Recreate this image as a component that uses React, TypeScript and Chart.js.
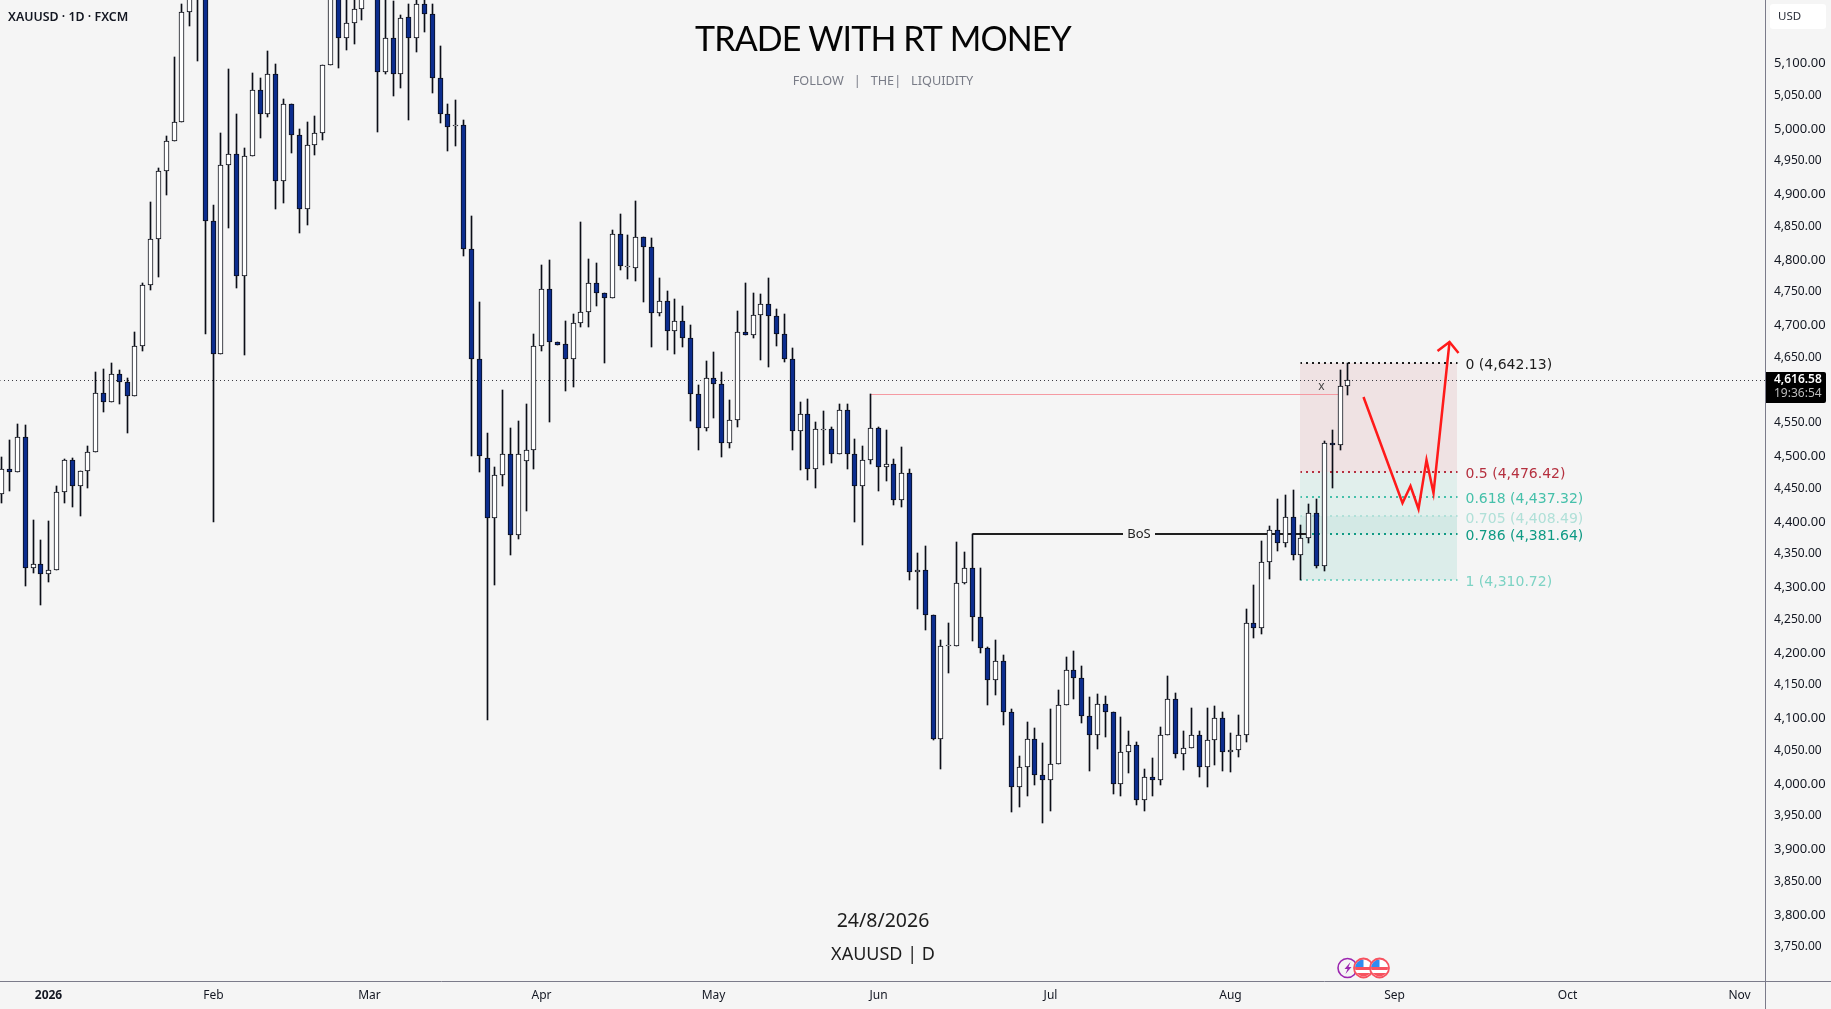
import React, { useEffect, useRef } from "react";
import { Chart, LinearScale, registerables } from "chart.js";

const highs = [
  4499,4525,4549,4548,4403,4372,4401,4454,4495,4498,
  4478,4515,4628,4633,4642,4632,4619,4690,4765,4888,
  4940,4989,5109,5190,5212,5290,5310,4883,4993,5091,
  5022,4970,5085,5077,5119,5099,5045,5037,4999,5010,
  5020,5098,5237,5222,5202,5202,5212,5290,5240,5207,
  5195,5174,5190,5197,5202,5190,5127,5038,5044,5014,
  4866,4735,4535,4484,4601,4543,4554,4580,4687,4792,
  4800,4675,4706,4717,4858,4801,4795,4749,4845,4870,
  4837,4890,4834,4833,4772,4752,4740,4729,4700,4609,
  4645,4659,4629,4586,4722,4764,4749,4748,4772,4724,
  4717,4665,4583,4588,4552,4569,4544,4580,4580,4526,
  4516,4595,4544,4540,4495,4514,4480,4352,4363,4258,
  4219,4245,4369,4354,4381,4329,4209,4219,4196,4114,
  4042,4094,4085,4062,4114,4143,4193,4202,4180,4132,
  4137,4134,4109,4102,4080,4063,4022,4039,4087,4164,
  4139,4080,4116,4080,4116,4119,4110,4077,4105,4266,
  4303,4370,4393,4435,4441,4448,4395,4427,4435,4523,
  4540,4632,4642.13,
];
const lows = [
  4429,4447,4476,4302,4322,4273,4308,4327,4428,4423,
  4408,4452,4507,4568,4583,4580,4536,4592,4660,4754,
  4773,4899,4981,5010,5157,5104,4686,4400,4656,4848,
  4757,4655,4959,4986,5018,4877,4887,4963,4841,4853,
  4960,4982,5098,5093,5120,5129,5166,5208,4995,5084,
  5050,5062,5013,5117,5148,5055,5009,4966,4973,4806,
  4501,4476,4098,4304,4455,4349,4374,4416,4481,4661,
  4552,4670,4600,4606,4698,4697,4729,4643,4741,4785,
  4771,4767,4735,4667,4714,4662,4656,4667,4554,4510,
  4539,4558,4499,4513,4545,4685,4681,4647,4636,4668,
  4644,4510,4479,4464,4451,4487,4490,4503,4480,4400,
  4364,4488,4447,4462,4426,4423,4311,4267,4235,4066,
  4023,4169,4211,4305,4218,4200,4120,4135,4090,3957,
  3965,3982,3998,3940,3959,4030,4120,4129,4092,4020,
  4053,4072,3985,3982,4017,3968,3959,3982,3998,4075,
  4039,4021,4054,4011,3995,4028,4020,4018,4041,4064,
  4222,4229,4312,4355,4362,4342,4310.72,4367,4329,4324,
  4451,4509,4594,
];
const opens = [
  4442,4481,4476,4530,4330,4336,4320,4327,4446,4494,
  4454,4477,4507,4596,4583,4625,4614,4592,4669,4762,
  4831,4935,4981,5010,5178,5230,5250,4859,4656,4944,
  4962,4775,4959,5059,5023,5083,4920,5037,4991,4877,
  4975,4994,5098,5207,5139,5162,5182,5225,5212,5086,
  5139,5083,5170,5138,5190,5175,5077,5023,5004.4,5005,
  4817,4648,4498,4405,4472,4504,4379,4492,4509,4668,
  4756,4675,4671,4648,4704,4720,4764,4749,4741,4839,
  4789,4788,4834,4819,4718,4737,4691,4706,4680,4595,
  4543,4620,4611,4520,4555,4689,4685,4715,4733,4714,
  4686,4648,4538,4565,4480,4540,4541,4503,4570,4504,
  4454,4494,4543,4483,4488,4433,4474,4323,4327,4258,
  4069,4210.2,4211,4307,4329,4255,4207,4159,4188,4109,
  3995,4025,4069,4014,4005,4030,4120,4173,4162,4104,
  4074,4121,4109,3999,4049,4059,3975,4011,4005,4075,
  4129,4046,4054,4075,4026,4066,4101,4049,4052,4075,
  4245,4237,4339,4388,4367,4407,4349,4375,4414,4332,
  4520,4517,4607,
];
const closes = [
  4481,4476,4530,4330,4336,4320,4327,4446,4494,4454,
  4477,4507,4596,4583,4625,4614,4592,4669,4762,4831,
  4935,4981,5010,5178,5202,5270,4859,4656,4944,4962,
  4775,4959,5059,5023,5083,4920,5037,4991,4877,4975,
  4994,5098,5222,5139,5162,5182,5202,5270,5086,5139,
  5083,5169,5138,5190,5175,5077,5023,5003,5006,4817,
  4648,4501,4405,4472,4504,4379,4504,4509,4668,4756,
  4675,4670,4648,4704,4720,4764,4749,4741,4839,4790,
  4790.4,4834,4819,4718,4737,4691,4706,4680,4595,4543,
  4620,4611,4520,4555,4689,4685,4715,4733,4714,4686,
  4648,4538,4565,4480,4541,4541.6,4503,4570,4504,4454,
  4494,4543,4483,4488,4433,4474,4323,4327,4258,4069,
  4211,4211.8,4307,4329,4255,4207,4159,4188,4109,3995,
  4025,4069,4014,4005,4030,4120,4173,4162,4104,4074,
  4121,4109,3999,4049,4059,3975,4011,4005,4075,4129,
  4046,4054,4075,4026,4066,4101,4049,4052,4075,4245,
  4237,4339,4388,4367,4407,4349,4375,4414,4332,4520,
  4517,4607,4616.58,
];

const monthLabels = ["2026","Feb","Mar","Apr","May","Jun","Jul","Aug","Sep","Oct","Nov"];
const monthBars = [6,27,47,69,91,112,134,157,178,200,222];
const priceTicks = [3750,3800,3850,3900,3950,4000,4050,4100,4150,4200,4250,4300,4350,4400,4450,4500,4550,4650,4700,4750,4800,4850,4900,4950,5000,5050,5100];

const fibRatios = ["0","0.5","0.618","0.705","0.786","1"];
const fibPrices = [4642.13,4476.42,4437.32,4408.49,4381.64,4310.72];
const fibColors = ["#1c1c1c","#b5303f","#45c0aa","#b0e0d8","#0f9a84","#7dd3c4"];
const fibBands = ["#efe2e3","#e1efec","#e1efec","#d3e9e5","#dcedea"];
const fibStartBar = 166;
const fibEndBar = 186;

const pathBars = [174,179,180,181,182,183,185];
const pathPrices = [4590,4429,4455,4419,4494,4444,4675];
const arrowBars = [183.5,185,186.1];
const arrowPrices = [4661,4675,4658];

const lastPrice = 4616.58;
const bosPrice = 4381;
const bosBars = [124,166.7];
const sweepPrice = 4594.5;
const sweepBars = [111,171];
const eventBars = [172,174,176];

const BG = "#f5f5f5";
const DARK = "#0b0e17";
const BLUE = "#0c2d8e";
const AXIS = "#7b7b8a";
const FONT = '"Noto Sans", sans-serif';
const LABEL_FONT = '"DejaVu Sans", sans-serif';

class SnapScale extends LinearScale {
  static id = "snap";
  static defaults = LinearScale.defaults;
  getPixelForValue(value: number) {
    const p = super.getPixelForValue(value);
    return this.axis === "x" ? Math.round(p) + 0.5 : Math.round(p);
  }
}
Chart.register(...registerables, SnapScale);

function label(ctx: any, text: string, x: number, y: number, font: string, color: string, align: any = "left", spacing = "0px") {
  ctx.font = font;
  ctx.fillStyle = color;
  ctx.textAlign = align;
  ctx.textBaseline = "middle";
  ctx.letterSpacing = spacing;
  ctx.fillText(text, x, y);
  ctx.letterSpacing = "0px";
}

const paperPlugin = {
  id: "paper",
  beforeDraw(chart: any) {
    const { ctx, width, height } = chart;
    ctx.save();
    ctx.fillStyle = BG;
    ctx.fillRect(0, 0, width, height);
    ctx.restore();
  },
  beforeDatasetsDraw(chart: any) {
    const { ctx, scales: { x, y } } = chart;
    const left = x.getPixelForValue(fibStartBar) - 0.5;
    const right = x.getPixelForValue(fibEndBar) - 0.5;
    ctx.save();
    fibBands.forEach((c, i) => {
      const a = y.getPixelForValue(fibPrices[i]);
      const b = y.getPixelForValue(fibPrices[i + 1]);
      ctx.fillStyle = c;
      ctx.fillRect(left, a, right - left, b - a);
    });
    ctx.restore();
  },
  beforeDatasetDraw(chart: any, args: any) {
    // one pixel lines sit in the middle of a pixel row
    if (args.meta.type === "line" && chart.data.datasets[args.index].borderWidth === 1) {
      chart.ctx.save();
      chart.ctx.translate(0, 0.5);
    }
  },
  afterDatasetDraw(chart: any, args: any) {
    if (args.meta.type === "line" && chart.data.datasets[args.index].borderWidth === 1) {
      chart.ctx.restore();
    }
  },
  afterDraw(chart: any) {
    const { ctx, scales: { x, y }, chartArea, width, height } = chart;
    ctx.save();

    // axis lines run on to the canvas edges
    ctx.fillStyle = AXIS;
    ctx.fillRect(chartArea.right, chartArea.bottom, width - chartArea.right, 1);
    ctx.fillRect(chartArea.right, chartArea.bottom, 1, height - chartArea.bottom);

    // headings
    const mid = 883;
    label(ctx, "TRADE WITH RT MONEY", mid, 40, `34px Lato, ${FONT}`, "#050505", "center", "-0.9px");
    label(ctx, "FOLLOW   |   THE|   LIQUIDITY", mid, 81, `12.7px ${FONT}`, "#787b86", "center");
    label(ctx, "24/8/2026", mid, 921, `19.5px ${FONT}`, "#1c1c1c", "center");
    label(ctx, "XAUUSD | D", mid, 955, `18px ${FONT}`, "#1c1c1c", "center");
    label(ctx, "XAUUSD · 1D · FXCM", 8, 17, `600 12.4px ${FONT}`, "#131722");

    // fibonacci labels
    const fx = x.getPixelForValue(fibEndBar) + 8;
    fibRatios.forEach((r, i) => {
      const t = `${r} (${fibPrices[i].toLocaleString("en-US", { minimumFractionDigits: 2 })})`;
      label(ctx, t, fx, y.getPixelForValue(fibPrices[i]) + 2 + (i === 3 ? 1 : 0), `14px ${LABEL_FONT}`, fibColors[i]);
    });

    // BoS tag
    const bx = 1139;
    const by = y.getPixelForValue(bosPrice);
    ctx.fillStyle = BG;
    ctx.fillRect(bx - 16, by - 9, 32, 18);
    label(ctx, "BoS", bx, by, `13px ${FONT}`, "#222", "center");

    // x mark
    label(ctx, "x", x.getPixelForValue(168.6), y.getPixelForValue(4606), `12px ${FONT}`, "#444", "center");

    // USD box
    ctx.fillStyle = "#ffffff";
    ctx.beginPath();
    ctx.roundRect(1770, 4, 56, 25, 3);
    ctx.fill();
    label(ctx, "USD", 1778, 17, `11.5px ${FONT}`, "#2a2e39");

    // last price tag
    const py = y.getPixelForValue(lastPrice);
    ctx.fillStyle = "#000000";
    ctx.beginPath();
    ctx.roundRect(1766, py - 8, 60, 31, [0, 2, 2, 0]);
    ctx.fill();
    label(ctx, "4,616.58", 1774, py, `600 12px ${FONT}`, "#ffffff");
    label(ctx, "19:36:54", 1774, py + 14, `12px ${FONT}`, "#bdbdbd");

    // event markers
    const ey = 968;
    eventBars.forEach((bar, i) => {
      const ex = x.getPixelForValue(bar);
      const r = 9.5;
      ctx.beginPath();
      ctx.arc(ex, ey, r, 0, Math.PI * 2);
      if (i === 0) {
        ctx.strokeStyle = "#9c27b0";
        ctx.lineWidth = 1.6;
        ctx.fillStyle = BG;
        ctx.fill();
        ctx.stroke();
        ctx.fillStyle = "#9c27b0";
        ctx.beginPath();
        ctx.moveTo(ex + 3, ey - 6);
        ctx.lineTo(ex - 3, ey + 1);
        ctx.lineTo(ex, ey + 1);
        ctx.lineTo(ex - 2, ey + 6);
        ctx.lineTo(ex + 4, ey - 1);
        ctx.lineTo(ex + 1, ey - 1);
        ctx.closePath();
        ctx.fill();
      } else {
        ctx.fillStyle = "#ffffff";
        ctx.fill();
        ctx.save();
        ctx.beginPath();
        ctx.arc(ex, ey, r - 1, 0, Math.PI * 2);
        ctx.clip();
        ctx.fillStyle = "#f7525f";
        ctx.fillRect(ex - r, ey - 1, 2 * r, 3);
        ctx.fillRect(ex - r, ey + 5, 2 * r, 5);
        ctx.fillStyle = "#2f8cf0";
        ctx.fillRect(ex - r, ey - r, r, r - 1);
        ctx.restore();
        ctx.beginPath();
        ctx.arc(ex, ey, r, 0, Math.PI * 2);
        ctx.strokeStyle = "#f7525f";
        ctx.lineWidth = 1.8;
        ctx.stroke();
      }
    });
    ctx.restore();
  },
};

function seg(xs: number[], ys: number[], color: string, width: number, order: number, dash: number[] = []) {
  return {
    type: "line",
    data: xs.map((v, i) => ({ x: v, y: ys[i] })),
    borderColor: color,
    borderWidth: width,
    borderDash: dash,
    borderDashOffset: dash.length ? 0.5 : 0,
    pointRadius: 0,
    tension: 0,
    order,
  };
}

export default function App() {
  const ref = useRef<HTMLCanvasElement | null>(null);
  useEffect(() => {
    document.body.style.margin = "0";
    document.body.style.background = BG;
    document.body.style.overflow = "hidden";
    const bars = highs.map((_, i) => i);
    const xMin = -0.17;
    const xMax = 225.36;
    const chart = new Chart(ref.current as any, {
      type: "bar",
      data: {
        datasets: [
          seg([xMin, xMax], [lastPrice, lastPrice], "#3c3c44", 1, 6, [1, 3]),
          seg(sweepBars, [sweepPrice, sweepPrice], "#f59aa2", 1, 6),
          seg(bosBars, [bosPrice, bosPrice], "#1f1f1f", 2, 6),
          ...fibPrices.map((p, i) => seg([fibStartBar, fibEndBar], [p, p], fibColors[i], 2, 6, [2, 4])),
          {
            type: "bar",
            data: bars.map((i) => ({ x: i, y: [lows[i], highs[i]] })),
            backgroundColor: DARK,
            barThickness: 1,
            grouped: false,
            borderWidth: 0,
            order: 5,
          },
          {
            type: "bar",
            data: bars.map((i) => ({ x: i, y: [opens[i], closes[i]] })),
            backgroundColor: bars.map((i) => (closes[i] >= opens[i] ? "#ffffff" : BLUE)),
            borderColor: DARK,
            borderWidth: 1,
            borderSkipped: false,
            barThickness: 5,
            grouped: false,
            order: 4,
          },
          seg(pathBars, pathPrices, "#ff1a1a", 2.5, 1),
          seg(arrowBars, arrowPrices, "#ff1a1a", 2.5, 1),
        ] as any,
      },
      options: {
        responsive: false,
        devicePixelRatio: 1,
        animation: false,
        events: [],
        layout: { padding: 0, autoPadding: false },
        plugins: { legend: { display: false }, tooltip: { enabled: false }, title: { display: false } },
        scales: {
          x: {
            type: "snap",
            position: "bottom",
            min: xMin,
            max: xMax,
            bounds: "data",
            offset: false,
            grid: { display: false, drawTicks: false, offset: false },
            border: { display: true, color: AXIS, width: 1 },
            afterFit: (s: any) => { s.height = 28; s.paddingLeft = 0; s.paddingRight = 0; },
            afterBuildTicks: (s: any) => { s.ticks = monthBars.map((value) => ({ value })); },
            ticks: {
              autoSkip: false,
              maxRotation: 0,
              padding: 7,
              color: "#131722",
              font: (c: any) => ({ family: FONT, size: 12, weight: c.tick && c.tick.value === monthBars[0] ? "bold" : "normal" }),
              callback: (v: any) => monthLabels[monthBars.indexOf(v)],
            },
          },
          y: {
            type: "snap",
            position: "right",
            min: 3698.8,
            max: 5196.5,
            bounds: "data",
            grid: { display: false, drawTicks: false },
            border: { display: true, color: AXIS, width: 1 },
            afterFit: (s: any) => { s.width = 66; s.paddingTop = 0; s.paddingBottom = 0; },
            afterBuildTicks: (s: any) => { s.ticks = priceTicks.map((value) => ({ value })); },
            ticks: {
              autoSkip: false,
              padding: 9,
              crossAlign: "near",
              color: "#131722",
              font: (c: any) => ({ family: FONT, size: c.tick && c.tick.value % 100 === 0 ? 13 : 12 }),
              callback: (v: any) => v.toLocaleString("en-US", { minimumFractionDigits: 2 }),
            },
          },
        },
      } as any,
      plugins: [paperPlugin],
    });
    return () => chart.destroy();
  }, []);
  return (
    <canvas
      ref={ref}
      width={1831}
      height={1009}
      style={{ position: "fixed", left: 0, top: 0, width: 1831, height: 1009, display: "block" }}
    />
  );
}
